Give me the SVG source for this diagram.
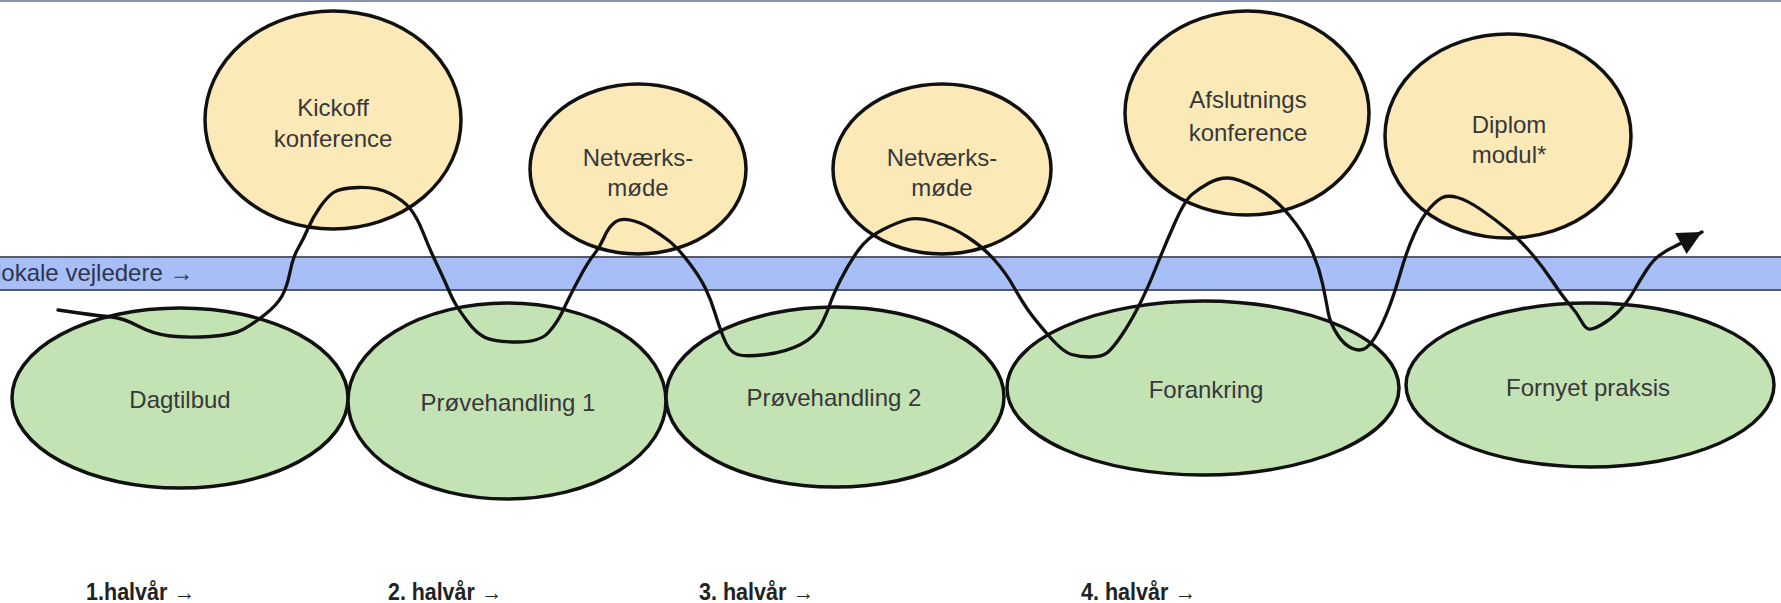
<svg xmlns="http://www.w3.org/2000/svg" width="1781" height="603" viewBox="0 0 1781 603">
<style>
.y{fill:#fce9b8;stroke:#111;stroke-width:3.5}
.g{fill:#c3e3b5;stroke:#111;stroke-width:3.5}
.t{font-family:"Liberation Sans",Arial,sans-serif;font-size:24px;fill:#383838;text-anchor:middle}
.h{font-family:"Liberation Sans Narrow","Liberation Sans",Arial,sans-serif;font-size:23px;font-weight:bold;fill:#222}
.wave{fill:none;stroke:#111;stroke-width:3.3;stroke-linejoin:round;stroke-linecap:round}
</style>
<defs>
<marker id="ah" viewBox="0 0 10 10" refX="10" refY="5" markerUnits="userSpaceOnUse" markerWidth="30" markerHeight="24" orient="auto">
<path d="M0,0 L10,5 L0,10 z" fill="#111"/>
</marker>
</defs>
<rect x="0" y="0" width="1781" height="603" fill="#ffffff"/>
<line x1="0" y1="1" x2="1781" y2="1" stroke="#8a93ad" stroke-width="2"/>
<g id="band">
<rect x="0" y="257" width="1781" height="33" fill="#a8bef6"/>
<line x1="0" y1="257" x2="1781" y2="257" stroke="#555a66" stroke-width="2"/>
<line x1="0" y1="290" x2="1781" y2="290" stroke="#555a66" stroke-width="2"/>
<text x="-4" y="281" style="font-family:'Liberation Sans',Arial,sans-serif;font-size:24px;fill:#2e3550">lokale vejledere →</text>
</g>
<g id="kickoff"><ellipse class="y" cx="333" cy="120" rx="128" ry="109"/><text class="t" x="333" y="116">Kickoff</text><text class="t" x="333" y="147">konference</text></g>
<g id="netvaerk1"><ellipse class="y" cx="638" cy="169" rx="108" ry="85"/><text class="t" x="638" y="166">Netværks-</text><text class="t" x="638" y="196">møde</text></g>
<g id="netvaerk2"><ellipse class="y" cx="942" cy="169" rx="109" ry="85"/><text class="t" x="942" y="166">Netværks-</text><text class="t" x="942" y="196">møde</text></g>
<g id="afslutning"><ellipse class="y" cx="1247" cy="113" rx="122" ry="102"/><text class="t" x="1248" y="108">Afslutnings</text><text class="t" x="1248" y="141">konference</text></g>
<g id="diplom"><ellipse class="y" cx="1508" cy="136" rx="123" ry="102"/><text class="t" x="1509" y="133">Diplom</text><text class="t" x="1509" y="163">modul*</text></g>
<g id="dagtilbud"><ellipse class="g" cx="180" cy="398" rx="168" ry="90"/><text class="t" x="180" y="408">Dagtilbud</text></g>
<g id="proeve1"><ellipse class="g" cx="507" cy="401" rx="159" ry="98"/><text class="t" x="508" y="411">Prøvehandling 1</text></g>
<g id="proeve2"><ellipse class="g" cx="835" cy="397" rx="169" ry="90"/><text class="t" x="834" y="406">Prøvehandling 2</text></g>
<g id="forankring"><ellipse class="g" cx="1203" cy="388" rx="196" ry="87"/><text class="t" x="1206" y="398">Forankring</text></g>
<g id="fornyet"><ellipse class="g" cx="1590" cy="385" rx="184" ry="82"/><text class="t" x="1588" y="396">Fornyet praksis</text></g>
<g id="connectors">
<path class="wave" marker-end="url(#ah)" d="M58,310 L79,313 Q100,316 111.5,317 Q123,318 138,326 Q153,334 170,336 Q187,338 210,336.5 Q233,335 243,329.5 Q253,324 265,314.5 Q277,305 282,296 Q287,287 290,272 Q293,257 298,248.5 Q303,240 308,228.5 Q313,217 320,207 Q327,197 333.5,192.5 Q340,188 358.5,187.5 Q377,187 390,193.5 Q403,200 410,208.5 Q417,217 423.5,233.5 Q430,250 436.5,263.5 Q443,277 447.5,287.5 Q452,298 455.5,304 Q459,310 467.5,321.5 Q476,333 485,337.5 Q494,342 517,342 Q540,342 548.5,332.5 Q557,323 562.5,311.5 Q568,300 571,294 Q574,288 581,275 Q588,262 594,254.5 Q600,247 604,237.5 Q608,228 614,223 Q620,218 630,220 Q640,222 650,228 Q660,234 668.5,240.5 Q677,247 688.5,262 Q700,277 705.5,288.5 Q711,300 714.5,311.5 Q718,323 723.5,337.5 Q729,352 737.5,354.5 Q746,357 766,354.5 Q786,352 800.5,344.5 Q815,337 821,325 Q827,313 830,304 Q833,295 841,279 Q849,263 858.5,250 Q868,237 883,229.5 Q898,222 908,219.5 Q918,217 935,222 Q952,227 967.5,237 Q983,247 994.5,260 Q1006,273 1013.5,286.5 Q1021,300 1028,310 Q1035,320 1049,336 Q1063,352 1071.5,354.5 Q1080,357 1091,357 Q1102,357 1107.5,352.5 Q1113,348 1121.5,335.5 Q1130,323 1138.5,306.5 Q1147,290 1156,267.5 Q1165,245 1175,222.5 Q1185,200 1192.5,194 Q1200,188 1209,183 Q1218,178 1227.5,178 Q1237,178 1255.5,187.5 Q1274,197 1289,215 Q1304,233 1311.5,250 Q1319,267 1322.5,283.5 Q1326,300 1328,311.5 Q1330,323 1337,334 Q1344,345 1352.5,348.5 Q1361,352 1366.5,347.5 Q1372,343 1377.5,333 Q1383,323 1388.5,309 Q1394,295 1400.5,272.5 Q1407,250 1414.5,233.5 Q1422,217 1429.5,208.5 Q1437,200 1442.5,197.5 Q1448,195 1457.5,197.5 Q1467,200 1481.5,210 Q1496,220 1508,230 Q1520,240 1531.5,253.5 Q1543,267 1553,282 Q1563,297 1570,305 Q1577,313 1581,320.5 Q1585,328 1588.5,329 Q1592,330 1601,325 Q1610,320 1618.5,311.5 Q1627,303 1633.5,291.5 Q1640,280 1646.5,270 Q1653,260 1660,255 Q1667,250 1672.5,247.5 Q1678,245 1702,232"/>
</g>
<g id="labels">
<text class="h" x="86" y="600" textLength="109" lengthAdjust="spacingAndGlyphs">1.halvår →</text>
<text class="h" x="388" y="600" textLength="114" lengthAdjust="spacingAndGlyphs">2. halvår →</text>
<text class="h" x="699" y="600" textLength="115" lengthAdjust="spacingAndGlyphs">3. halvår →</text>
<text class="h" x="1081" y="600" textLength="115" lengthAdjust="spacingAndGlyphs">4. halvår →</text>
</g>
</svg>
